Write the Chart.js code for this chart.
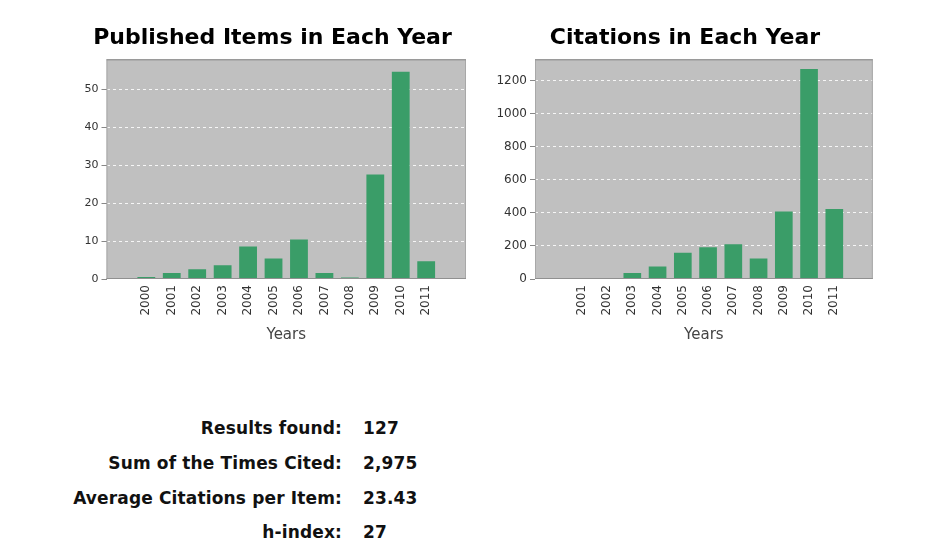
<!DOCTYPE html>
<html>
<head>
<meta charset="utf-8">
<script src="https://cdn.jsdelivr.net/npm/chart.js@4/dist/chart.umd.min.js"></script>
<style>
  body { margin: 0; background: #fff; width: 933px; height: 546px; overflow: hidden; position: relative; }
  .box { position: absolute; }
  .stat { position: absolute; font: bold 17px "DejaVu Sans", sans-serif; letter-spacing: 0.15px; color: #111; line-height: 20px; white-space: nowrap; }
  .lab { text-align: right; width: 320px; left: 22px; }
  .val { left: 363px; }
</style>
</head>
<body>
<div class="box" style="left:79px;top:10px;width:404px;height:345px;"><canvas id="pubChart"></canvas></div>
<div class="box" style="left:491px;top:10px;width:389px;height:345px;"><canvas id="citeChart"></canvas></div>
<div id="stats"></div>
<script>
const pubYears = ["2000", "2001", "2002", "2003", "2004", "2005", "2006", "2007", "2008", "2009", "2010", "2011"];
const pubCounts = [0.5, 1.6, 2.6, 3.6, 8.6, 5.4, 10.4, 1.6, 0.4, 27.6, 54.7, 4.7];
const pubTicks = [0, 10, 20, 30, 40, 50];

const citeYears = ["2001", "2002", "2003", "2004", "2005", "2006", "2007", "2008", "2009", "2010", "2011"];
const citeCounts = [0, 0, 37, 75, 159, 192, 210, 124, 408, 1271, 424];
const citeTicks = [0, 200, 400, 600, 800, 1000, 1200];

const statLabels = ["Results found:", "Sum of the Times Cited:", "Average Citations per Item:", "h-index:"];
const statValues = ["127", "2,975", "23.43", "27"];

// stats block
const stats = document.getElementById("stats");
statLabels.forEach(function (label, i) {
  const top = 418 + i * 34.8;
  const l = document.createElement("div");
  l.className = "stat lab";
  l.style.top = top + "px";
  l.textContent = label;
  const v = document.createElement("div");
  v.className = "stat val";
  v.style.top = top + "px";
  v.textContent = statValues[i];
  stats.appendChild(l);
  stats.appendChild(v);
});

const plotFrame = {
  id: "plotFrame",
  beforeDraw(chart) {
    const a = chart.chartArea;
    const c = chart.ctx;
    c.save();
    c.fillStyle = "#c0c0c0";
    c.fillRect(a.left, a.top, a.right - a.left, a.bottom - a.top);
    c.restore();
  },
  afterDatasetsDraw(chart) {
    const a = chart.chartArea;
    const c = chart.ctx;
    c.save();
    c.strokeStyle = "#a8a8a8";
    c.lineWidth = 1;
    c.strokeRect(a.left + 0.5, a.top + 0.5, a.right - a.left - 1, a.bottom - a.top - 1);
    c.strokeStyle = "#909090";
    c.beginPath();
    c.moveTo(a.left, a.top + 0.5);
    c.lineTo(a.right, a.top + 0.5);
    c.moveTo(a.left, a.bottom - 0.5);
    c.lineTo(a.right, a.bottom - 0.5);
    c.stroke();
    c.restore();
  },
};

function makeChart(id, title, years, counts, ticks, cfg) {
  return new Chart(document.getElementById(id), {
    type: "bar",
    data: {
      datasets: [
        {
          data: counts.map((v, i) => ({ x: i, y: v })),
          backgroundColor: "#3a9d68",
          borderWidth: 0,
          categoryPercentage: 1,
          barPercentage: 0.7,
        },
      ],
    },
    options: {
      responsive: true,
      maintainAspectRatio: false,
      animation: false,
      layout: { padding: { left: 0, right: cfg.padRight, top: 0, bottom: 8 } },
      plugins: {
        legend: { display: false },
        tooltip: { enabled: false },
        title: {
          display: true,
          text: title,
          color: "#000",
          font: { family: '"DejaVu Sans", sans-serif', size: 22, weight: "bold" },
          padding: { top: 15.3, bottom: 7.6 },
        },
      },
      scales: {
        x: {
          type: "linear",
          min: cfg.xMin,
          max: cfg.xMax,
          afterFit(scale) { scale.height = 68; },
          grid: { display: false, drawTicks: false },
          border: { display: false },
          ticks: {
            stepSize: 1,
            includeBounds: false,
            autoSkip: false,
            minRotation: 90,
            maxRotation: 90,
            padding: 6,
            color: "#333",
            font: { family: '"DejaVu Sans", sans-serif', size: 12 },
            callback: (v) => years[Math.round(v)] || "",
          },
          title: {
            display: true,
            text: "Years",
            color: "#444",
            font: { family: '"DejaVu Sans", sans-serif', size: 15 },
            padding: { top: 0, bottom: 3 },
          },
        },
        y: {
          min: 0,
          max: cfg.yMax,
          afterFit(scale) { scale.width = cfg.yWidth; },
          afterBuildTicks(scale) { scale.ticks = ticks.map((v) => ({ value: v })); },
          grid: {
            color: "rgba(255,255,255,0.85)",
            lineWidth: 1,
            drawTicks: true,
            tickLength: 5,
            tickColor: "#888",
            tickBorderDash: [],
          },
          border: { display: false, dash: [3, 3] },
          ticks: {
            padding: 3,
            color: "#333",
            font: { family: '"DejaVu Sans", sans-serif', size: cfg.yFont },
            callback: (v) => String(v),
          },
        },
      },
    },
    plugins: [plotFrame],
  });
}

makeChart("pubChart", "Published Items in Each Year", pubYears, pubCounts, pubTicks, {
  xMin: -1.06, xMax: 12.06, yMax: 58, yWidth: 27.5, padRight: 17, yFont: 11,
});
makeChart("citeChart", "Citations in Each Year", citeYears, citeCounts, citeTicks, {
  xMin: -1.34, xMax: 11.01, yMax: 1330, yWidth: 44, padRight: 1, yFont: 12,
});
</script>
</body>
</html>
